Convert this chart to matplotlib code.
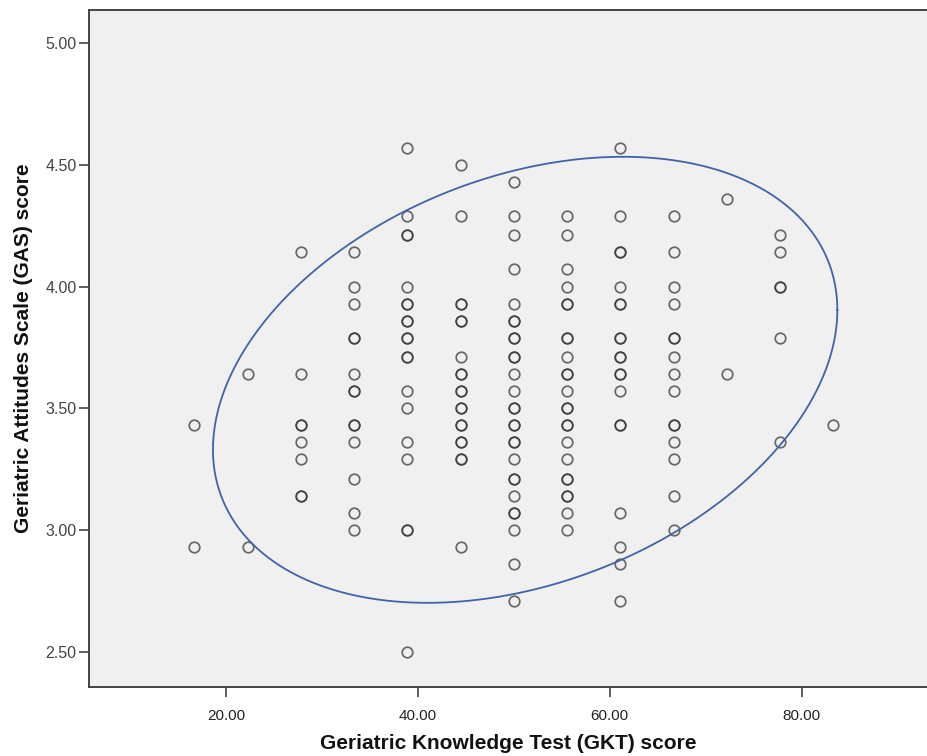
import numpy as np
import matplotlib
matplotlib.use('Agg')
import matplotlib.pyplot as plt

# GKT score levels (x) and the GAS scores read at each level (repeats = overlapping cases)
gkt_levels = [16.67, 22.22, 27.78, 33.33, 38.89, 44.44, 50.00, 55.56, 61.11, 66.67, 72.22, 77.78, 83.33]

gas_16 = [3.43, 2.93]
gas_22 = [3.64, 2.93]
gas_28 = [4.14, 3.64, 3.43, 3.43, 3.36, 3.29, 3.14, 3.14]
gas_33 = [4.14, 4.00, 3.93, 3.79, 3.79, 3.64, 3.57, 3.57, 3.43, 3.43, 3.36, 3.21, 3.07, 3.00]
gas_39 = [4.57, 4.29, 4.21, 4.21, 4.00, 3.93, 3.93, 3.86, 3.86, 3.79, 3.79, 3.71, 3.71,
          3.57, 3.50, 3.36, 3.29, 3.00, 3.00, 2.50]
gas_44 = [4.50, 4.29, 3.93, 3.93, 3.86, 3.86, 3.71, 3.64, 3.64, 3.57, 3.57, 3.50, 3.50,
          3.43, 3.43, 3.36, 3.36, 3.29, 3.29, 2.93]
gas_50 = [4.43, 4.29, 4.21, 4.07, 3.93, 3.86, 3.86, 3.79, 3.79, 3.71, 3.71, 3.64, 3.57,
          3.50, 3.50, 3.43, 3.43, 3.36, 3.36, 3.29, 3.21, 3.21, 3.14, 3.07, 3.07, 3.00, 2.86, 2.71]
gas_56 = [4.29, 4.21, 4.07, 4.00, 3.93, 3.93, 3.79, 3.79, 3.71, 3.64, 3.64, 3.57, 3.50, 3.50,
          3.43, 3.43, 3.36, 3.29, 3.21, 3.21, 3.14, 3.14, 3.07, 3.00]
gas_61 = [4.57, 4.29, 4.14, 4.14, 4.00, 3.93, 3.93, 3.79, 3.79, 3.71, 3.71, 3.64, 3.64, 3.57,
          3.43, 3.43, 3.07, 2.93, 2.86, 2.71]
gas_67 = [4.29, 4.14, 4.00, 3.93, 3.79, 3.79, 3.71, 3.64, 3.57, 3.43, 3.43, 3.36, 3.29, 3.14, 3.00]
gas_72 = [4.36, 3.64]
gas_78 = [4.21, 4.14, 4.00, 4.00, 3.79, 3.36]
gas_83 = [3.43]

gas_columns = [gas_16, gas_22, gas_28, gas_33, gas_39, gas_44, gas_50,
               gas_56, gas_61, gas_67, gas_72, gas_78, gas_83]

# ellipse: centre, half-extents, correlation
ell_center = (51.17, 3.617)
ell_spread = (32.57, 0.9155)
ell_rho = 0.313

x_ticks = [20, 40, 60, 80]
y_ticks = [2.5, 3.0, 3.5, 4.0, 4.5, 5.0]

gkt = np.concatenate([[x] * len(col) for x, col in zip(gkt_levels, gas_columns)])
gas = np.concatenate(gas_columns)

fig = plt.figure(figsize=(9.28, 7.56), dpi=100)
ax = fig.add_axes([89 / 928, 1 - 687 / 756, 0.999 - 89 / 928, (687 - 10) / 756])
ax.set_facecolor('#f0f0f0')

ax.plot(gkt, gas, linestyle='none', marker='o', markersize=7.6,
        markerfacecolor='none', markeredgecolor='#333333', markeredgewidth=1.25, alpha=0.72)

t = np.linspace(0, 2 * np.pi, 400)
ex = ell_center[0] + ell_spread[0] * np.cos(t)
ey = ell_center[1] + ell_spread[1] * (ell_rho * np.cos(t) + np.sqrt(1 - ell_rho ** 2) * np.sin(t))
ax.plot(ex, ey, color='#3f64a9', linewidth=1.3)

ax.set_xlim(5.67, 93.1)
ax.set_ylim(2.356, 5.135)
ax.set_xticks(x_ticks)
ax.set_yticks(y_ticks)
ax.set_xticklabels([f'{v:.2f}' for v in x_ticks], family='Liberation Sans',
                   fontsize=11, color='#222222')
ax.set_yticklabels([f'{v:.2f}' for v in y_ticks], family='Liberation Sans',
                   fontsize=11.5, color='#444444')
ax.tick_params(axis='both', direction='out', length=7, width=1.1, color='#333333')
ax.tick_params(axis='x', pad=9)
ax.tick_params(axis='y', pad=2)

for side in ['left', 'bottom', 'top']:
    ax.spines[side].set_color('#444444')
    ax.spines[side].set_linewidth(1.4)
ax.spines['right'].set_visible(False)

ax.set_xlabel('Geriatric Knowledge Test (GKT) score', fontsize=15, fontweight='bold',
              family='Liberation Sans', labelpad=8, color='#111111')
ax.set_ylabel('Geriatric Attitudes Scale (GAS) score', fontsize=15, fontweight='bold',
              family='Liberation Sans', labelpad=9, color='#111111')

fig.savefig('out.png', dpi=100)
